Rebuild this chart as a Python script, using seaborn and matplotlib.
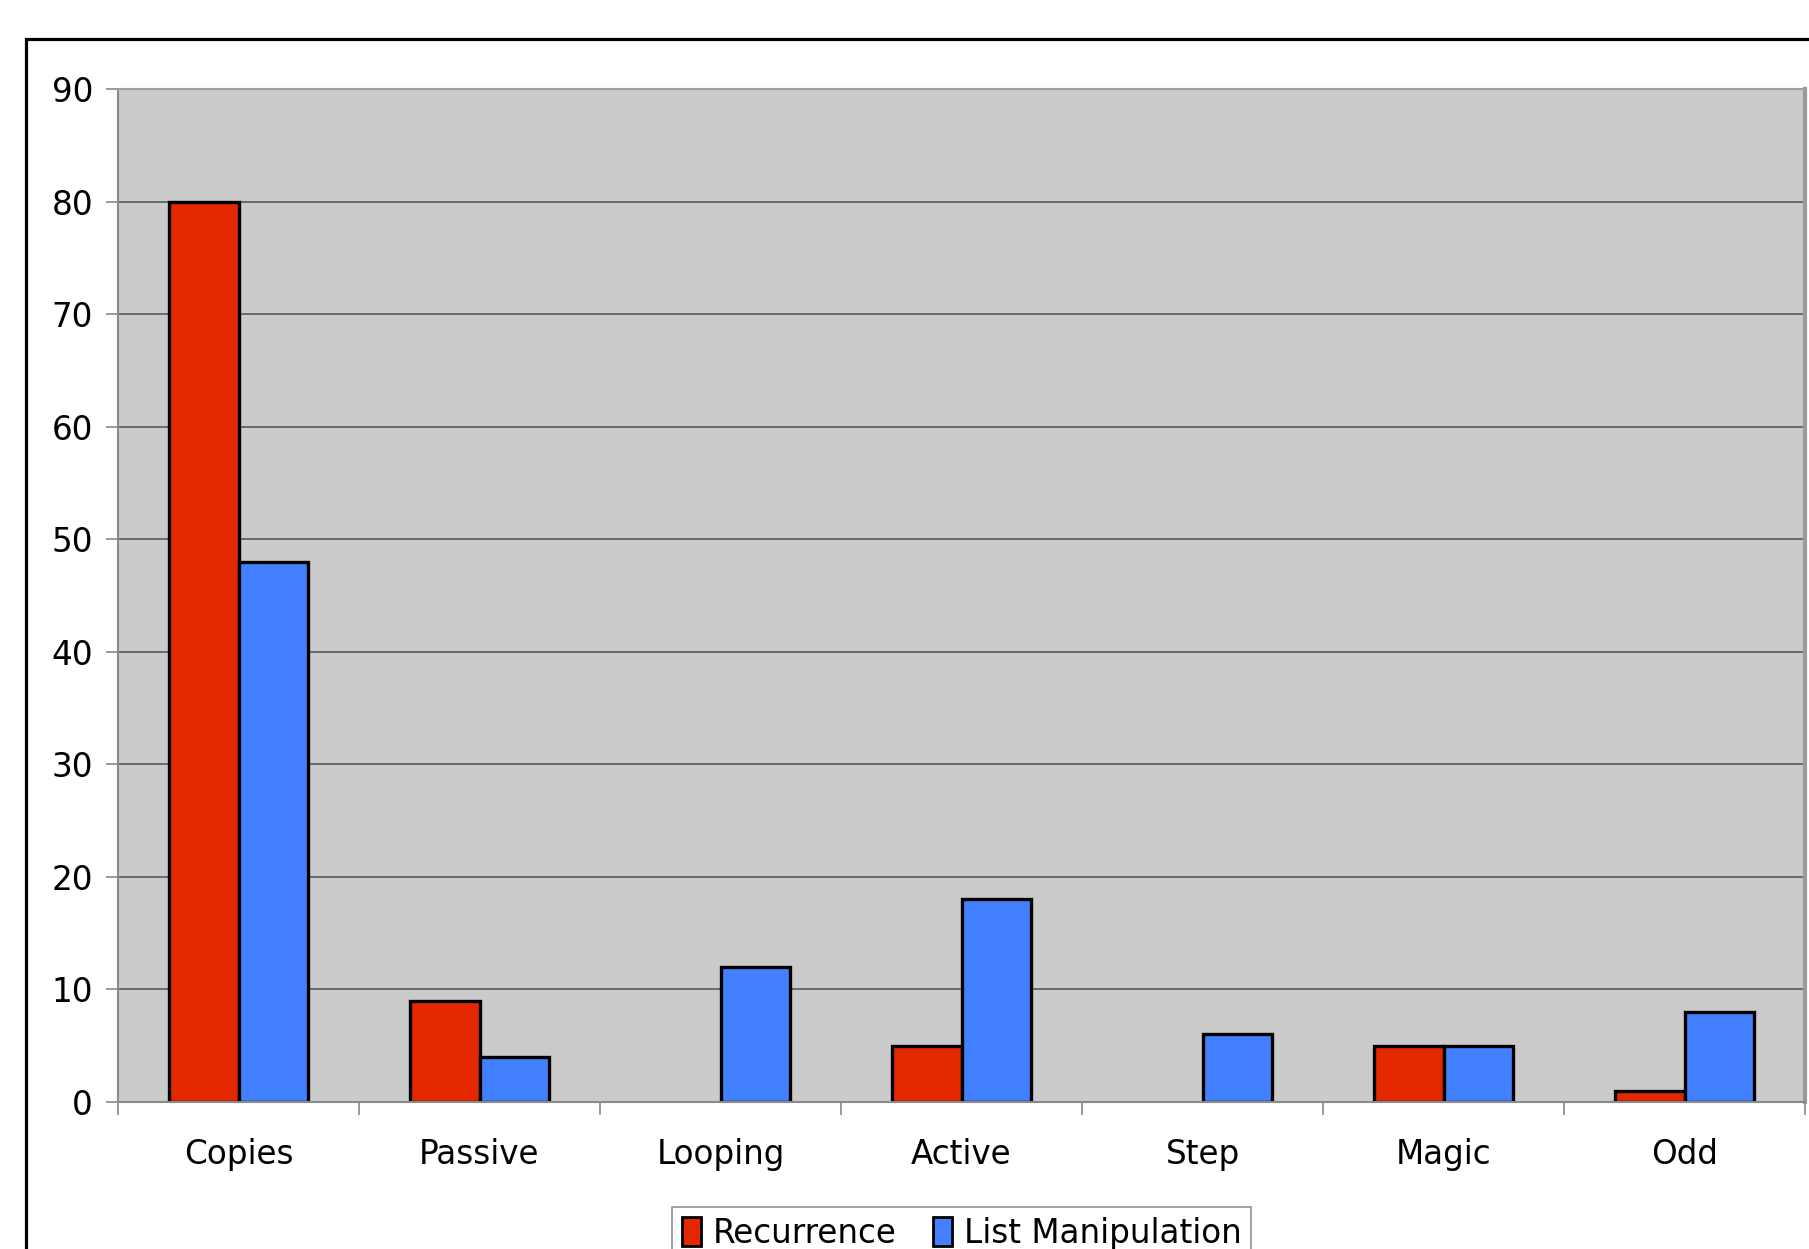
import matplotlib
matplotlib.use("Agg")
import matplotlib.pyplot as plt
from matplotlib.patches import Rectangle, Patch
from matplotlib.ticker import FixedLocator
import pandas as pd
import seaborn as sns

categories = ["Copies", "Passive", "Looping", "Active", "Step", "Magic", "Odd"]
recurrence = [80, 9, 0, 5, 0, 5, 1]
list_manipulation = [48, 4, 12, 18, 6, 5, 8]
series_names = ["Recurrence", "List Manipulation"]
series_colors = ["#E32800", "#4380FF"]
y_ticks = [0, 10, 20, 30, 40, 50, 60, 70, 80, 90]

df = pd.DataFrame({
    "category": categories * 2,
    "value": recurrence + list_manipulation,
    "series": [series_names[0]] * len(categories) + [series_names[1]] * len(categories),
})

sns.set_theme(style="white")
plt.rcParams["font.family"] = ["DejaVu Sans"]
plt.rcParams["text.color"] = "black"

W, H = 1809, 1249
FS = 23.5
fig = plt.figure(figsize=(W / 100, H / 100), dpi=100)
fig.patch.set_facecolor("white")
ax = fig.add_axes([118 / W, 1 - 1102 / H, (1805 - 118) / W, (1102 - 89) / H])
ax.set_facecolor("#CBCBCB")

sns.barplot(
    data=df, x="category", y="value", hue="series", order=categories,
    hue_order=series_names, palette=series_colors, width=0.575,
    edgecolor="black", linewidth=2.4, saturation=1, ax=ax, legend=False,
    zorder=3,
)

# empty bars leave no outline on the baseline
for bar in ax.patches:
    if bar.get_height() == 0:
        bar.set_visible(False)

ax.set_xlim(-0.5, len(categories) - 0.5)
ax.set_ylim(0, 90)
ax.set_yticks(y_ticks)
ax.yaxis.grid(True, color="#5A5A5A", linewidth=1.2, zorder=1)
ax.set_axisbelow(True)
ax.set_xlabel("")
ax.set_ylabel("")

# category labels at centers, tick marks at category boundaries
ax.tick_params(axis="x", which="major", length=0, pad=26, labelsize=FS, colors="black")
ax.xaxis.set_minor_locator(FixedLocator([i - 0.5 for i in range(len(categories) + 1)]))
ax.tick_params(axis="x", which="minor", length=9, width=1.2, color="#888888", direction="out")
ax.tick_params(axis="y", which="major", length=9, width=1.2, color="#888888",
               direction="out", pad=9, labelsize=FS, labelcolor="black")
ax.tick_params(left=True, bottom=True)
ax.xaxis.set_tick_params(which="minor", bottom=True)

for side in ["left", "bottom"]:
    ax.spines[side].set_color("#8A8A8A")
    ax.spines[side].set_linewidth(1.5)
ax.spines["top"].set_color("#A0A0A0")
ax.spines["top"].set_linewidth(1.5)
ax.spines["right"].set_color("#999999")
ax.spines["right"].set_linewidth(3)
for s in ax.spines.values():
    s.set_zorder(5)

# outer chart frame
fig.patches.append(Rectangle((26 / W, -0.2), 1.2, 1 - 39 / H + 0.2,
                             transform=fig.transFigure, fill=False,
                             edgecolor="black", linewidth=2.3, zorder=0))

handles = [Patch(facecolor=c, edgecolor="black", linewidth=2.0) for c in series_colors]
leg = fig.legend(handles, series_names, loc="upper center", ncol=2,
                 bbox_to_anchor=(961.5 / W, 1 - 1207 / H), frameon=True,
                 fontsize=FS, handlelength=0.6, handleheight=1.0, handletextpad=0.35,
                 columnspacing=1.1, borderpad=0.3, fancybox=False, borderaxespad=0,
                 labelcolor="black")
leg.get_frame().set_edgecolor("#777777")
leg.get_frame().set_linewidth(1.2)
leg.get_frame().set_facecolor("white")

fig.savefig("out.png", dpi=100, facecolor="white")
